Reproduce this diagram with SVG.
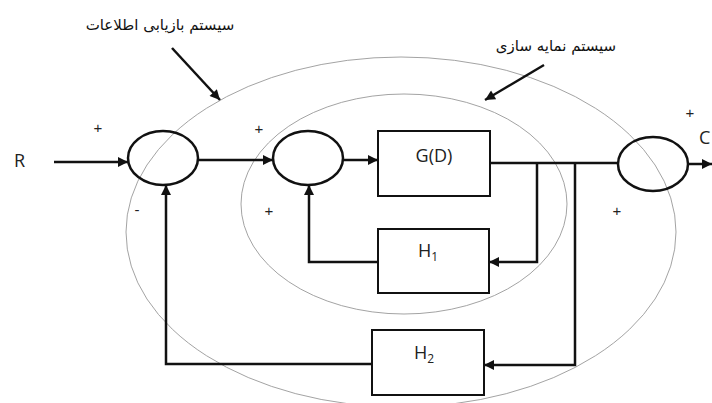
<svg xmlns="http://www.w3.org/2000/svg" width="712" height="403" viewBox="0 0 712 403">
<style>
.ln{fill:none;stroke:#111;stroke-width:2.5}
.sum{fill:none;stroke:#111;stroke-width:2.5}
.box{fill:#fff;stroke:#111;stroke-width:2}
.bound{fill:none;stroke:#999;stroke-width:0.9}
.lbl{font-family:"Open Sans","Liberation Sans",sans-serif;font-size:18px;fill:#222}
.sg{font-family:"Liberation Sans",sans-serif;font-size:15px;fill:#222}
.fa{font-family:"DejaVu Sans",sans-serif;font-size:15px;fill:#111}
</style>
<defs>
<marker id="ah" viewBox="0 0 10 10" refX="10" refY="5" markerWidth="4.4" markerHeight="4" orient="auto" markerUnits="strokeWidth">
<path d="M0,0 L10,5 L0,10 z" fill="#111"/>
</marker>
</defs>
<rect width="712" height="403" fill="#fff"/>
<g id="boundaries">
<ellipse class="bound" cx="401" cy="232" rx="275" ry="175"/>
<ellipse class="bound" cx="404" cy="204" rx="163" ry="110"/>
</g>
<g id="connectors">
<line class="ln" x1="54" y1="162" x2="128" y2="162" marker-end="url(#ah)"/>
<line class="ln" x1="198" y1="160" x2="273" y2="160" marker-end="url(#ah)"/>
<line class="ln" x1="343" y1="160" x2="378" y2="160" marker-end="url(#ah)"/>
<line class="ln" x1="490" y1="163" x2="618" y2="163"/>
<line class="ln" x1="689" y1="164" x2="712" y2="164" marker-end="url(#ah)"/>
<polyline class="ln" points="537,163 537,262 489,262" marker-end="url(#ah)"/>
<polyline class="ln" points="575,163 575,365 484,365" marker-end="url(#ah)"/>
<polyline class="ln" points="378,262 309,262 309,185" marker-end="url(#ah)"/>
<polyline class="ln" points="372,364 166,364 166,185" marker-end="url(#ah)"/>
<line class="ln" x1="172" y1="48" x2="220" y2="100" stroke-width="3" marker-end="url(#ah)"/>
<line class="ln" x1="544" y1="65" x2="485" y2="100" stroke-width="3" marker-end="url(#ah)"/>
</g>
<g id="sum1"><ellipse class="sum" cx="163" cy="158" rx="35" ry="27"/></g>
<g id="sum2"><ellipse class="sum" cx="308" cy="158" rx="35" ry="27"/></g>
<g id="sum3"><ellipse class="sum" cx="653" cy="164" rx="35" ry="27"/></g>
<g id="G"><rect class="box" x="378" y="131" width="112" height="65"/><text class="lbl" x="434" y="162" text-anchor="middle">G(D)</text></g>
<g id="H1"><rect class="box" x="378" y="229" width="111" height="64"/><text class="lbl" x="428" y="257" text-anchor="middle">H<tspan font-size="12" dy="4">1</tspan></text></g>
<g id="H2"><rect class="box" x="372" y="330" width="112" height="65"/><text class="lbl" x="424" y="359" text-anchor="middle">H<tspan font-size="12" dy="4">2</tspan></text></g>
<g id="labels">
<text class="lbl" x="14" y="167">R</text>
<text class="lbl" x="699" y="144">C</text>
<text class="sg" x="98" y="133" text-anchor="middle">+</text>
<text class="sg" x="259" y="134" text-anchor="middle">+</text>
<text class="sg" x="137" y="215" text-anchor="middle">-</text>
<text class="sg" x="269" y="216" text-anchor="middle">+</text>
<text class="sg" x="690" y="118" text-anchor="middle">+</text>
<text class="sg" x="617" y="216" text-anchor="middle">+</text>
<text class="fa" x="160" y="30" text-anchor="middle" direction="rtl">سیستم بازیابی اطلاعات</text>
<text class="fa" x="556" y="51" text-anchor="middle" direction="rtl">سیستم نمایه سازی</text>
</g>
</svg>
